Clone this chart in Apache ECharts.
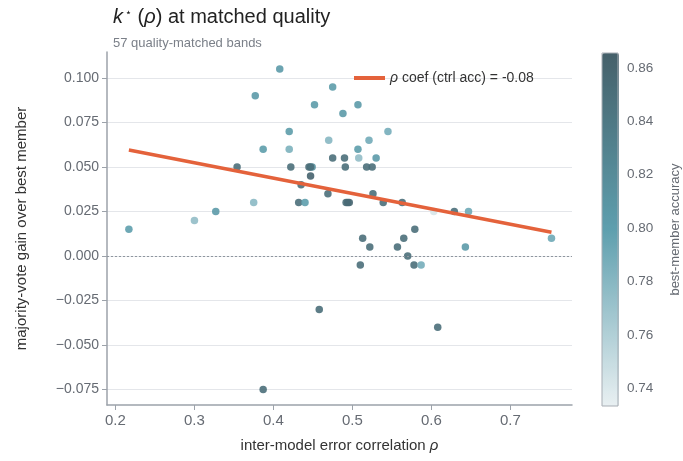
<!DOCTYPE html>
<html>
<head>
<meta charset="utf-8">
<script src="https://cdn.jsdelivr.net/npm/echarts@6/dist/echarts.min.js"></script>
<style>
  html, body { margin: 0; padding: 0; background: #fff; }
  #chart { width: 683px; height: 461px; }
</style>
</head>
<body>
<div id="chart"></div>
<script>
// inter-model error correlation (x), majority-vote gain (y), best-member accuracy (colour)
const rho = [
  0.217, 0.300, 0.327, 0.354, 0.375, 0.377, 0.387, 0.387, 0.408, 0.420,
  0.420, 0.422, 0.432, 0.435, 0.440, 0.445, 0.449, 0.447, 0.452, 0.458,
  0.469, 0.470, 0.475, 0.475, 0.488, 0.490, 0.491, 0.492, 0.496, 0.507,
  0.507, 0.508, 0.510, 0.513, 0.518, 0.521, 0.522, 0.525, 0.526, 0.530,
  0.539, 0.545, 0.557, 0.563, 0.565, 0.570, 0.578, 0.579, 0.587, 0.603,
  0.608, 0.629, 0.643, 0.647, 0.752, 0.494, 0.447
];
const gain = [
  0.015, 0.020, 0.025, 0.050, 0.030, 0.090, 0.060, -0.075, 0.105, 0.070,
  0.060, 0.050, 0.030, 0.040, 0.030, 0.050, 0.050, 0.045, 0.085, -0.030,
  0.035, 0.065, 0.095, 0.055, 0.080, 0.055, 0.050, 0.030, 0.030, 0.085,
  0.060, 0.055, -0.005, 0.010, 0.050, 0.065, 0.005, 0.050, 0.035, 0.055,
  0.030, 0.070, 0.005, 0.030, 0.010, 0.000, -0.005, 0.015, -0.005, 0.025,
  -0.040, 0.025, 0.005, 0.025, 0.010, 0.030, 0.050
];
const acc = [
  0.800, 0.775, 0.805, 0.850, 0.778, 0.805, 0.802, 0.850, 0.805, 0.803,
  0.785, 0.850, 0.850, 0.850, 0.800, 0.852, 0.812, 0.862, 0.803, 0.850,
  0.850, 0.780, 0.803, 0.850, 0.805, 0.850, 0.850, 0.852, 0.860, 0.805,
  0.802, 0.775, 0.850, 0.850, 0.850, 0.790, 0.850, 0.850, 0.850, 0.805,
  0.850, 0.788, 0.850, 0.850, 0.850, 0.850, 0.850, 0.850, 0.788, 0.742,
  0.850, 0.850, 0.805, 0.792, 0.792, 0.855, 0.850
];

// fitted line (rho coefficient, controlling for accuracy)
const fitX = [0.217, 0.752];
const fitY = [0.0595, 0.0133];

const xTicks = [0.2, 0.3, 0.4, 0.5, 0.6, 0.7];
const yTicks = [-0.075, -0.05, -0.025, 0, 0.025, 0.05, 0.075, 0.1];
const cbTicks = [0.74, 0.76, 0.78, 0.80, 0.82, 0.84, 0.86];

const FONT = "Liberation Sans, Arial, sans-serif";
const axisGrey = "#9ca2aa";
const labelGrey = "#666b73";

const chart = echarts.init(document.getElementById("chart"));

const fmtY = v => (v < 0 ? "\u2212" : "") + Math.abs(v).toFixed(3);

const options = {
  animation: false,
  textStyle: { fontFamily: FONT },
  title: {
    left: 108,
    top: 2,
    text: "{i|k}{s|\u22c6} ({i|\u03c1}) at matched quality",
    textStyle: {
      fontFamily: FONT,
      fontSize: 20,
      fontWeight: "normal",
      color: "#222",
      rich: {
        i: { fontFamily: FONT, fontSize: 20, fontStyle: "italic", color: "#222" },
        s: { fontFamily: FONT, fontSize: 11, color: "#222", verticalAlign: "top", padding: [0, 0, 8, 2] }
      }
    },
    subtext: "57 quality-matched bands",
    subtextStyle: { fontFamily: FONT, fontSize: 13, color: "#7b8089" },
    itemGap: 10
  },
  legend: {
    left: 349,
    top: 66,
    itemWidth: 31,
    itemHeight: 4,
    icon: "rect",
    data: [{ name: "fit", itemStyle: { color: "#e4623b" } }],
    formatter: () => "{i|\u03c1} coef (ctrl acc) = -0.08",
    textStyle: {
      fontFamily: FONT,
      fontSize: 14,
      color: "#333",
      rich: { i: { fontFamily: FONT, fontSize: 14, fontStyle: "italic", color: "#333" } }
    }
  },
  grid: [
    { left: 107, top: 52, width: 465, height: 353, show: false },
    { left: 602, top: 53, width: 17, height: 353, show: true, borderColor: "#a7adb4", borderWidth: 1, backgroundColor: "transparent", z: 10 }
  ],
  visualMap: {
    type: "continuous",
    min: 0.7334,
    max: 0.8656,
    dimension: 2,
    seriesIndex: 0,
    left: 602,
    top: 53,
    itemWidth: 17,
    itemHeight: 353,
    padding: 0,
    calculable: false,
    hoverLink: false,
    text: null,
    inRange: { color: ["#e9f0f2", "#5e9fae", "#45606a"] }
  },
  xAxis: [
    {
      type: "value",
      gridIndex: 0,
      min: 0.1893,
      max: 0.778,
      name: "inter-model error correlation {i|\u03c1}",
      nameLocation: "middle",
      nameGap: 33,
      nameTextStyle: {
        fontFamily: FONT, fontSize: 15, color: "#333",
        rich: { i: { fontFamily: FONT, fontSize: 15, fontStyle: "italic", color: "#333" } }
      },
      axisLine: { onZero: false, lineStyle: { color: axisGrey, width: 1.5 } },
      axisTick: { length: 5, customValues: xTicks, lineStyle: { color: axisGrey } },
      axisLabel: { customValues: xTicks, fontSize: 15, color: labelGrey, margin: 8, formatter: v => v.toFixed(1) },
      splitLine: { show: false }
    },
    {
      type: "value",
      gridIndex: 1,
      min: 0,
      max: 1,
      show: false
    }
  ],
  yAxis: [
    {
      type: "value",
      gridIndex: 0,
      min: -0.0837,
      max: 0.1146,
      name: "majority-vote gain over best member",
      nameLocation: "middle",
      nameGap: 78,
      nameTextStyle: { fontFamily: FONT, fontSize: 15, color: "#333" },
      axisLine: { onZero: false, lineStyle: { color: axisGrey, width: 1.5 } },
      axisTick: { length: 5, customValues: yTicks, lineStyle: { color: axisGrey } },
      axisLabel: { customValues: yTicks, fontSize: 14, color: labelGrey, margin: 8, formatter: fmtY },
      splitLine: { show: true, lineStyle: { color: "#e4e6ea", width: 1.2 } }
    },
    {
      type: "value",
      gridIndex: 1,
      position: "right",
      min: 0.7334,
      max: 0.8656,
      name: "best-member accuracy",
      nameLocation: "middle",
      nameRotate: 90,
      nameGap: 51,
      nameTextStyle: { fontFamily: FONT, fontSize: 13, color: "#666b73" },
      axisLine: { show: false },
      axisTick: { show: true, length: 4, customValues: cbTicks, lineStyle: { color: axisGrey } },
      axisLabel: { customValues: cbTicks, fontSize: 13.5, color: labelGrey, margin: 9, formatter: v => v.toFixed(2) },
      splitLine: { show: false }
    }
  ],
  series: [
    {
      name: "bands",
      type: "scatter",
      xAxisIndex: 0,
      yAxisIndex: 0,
      symbolSize: 7.5,
      itemStyle: { opacity: 0.9 },
      data: rho.map((x, i) => [x, gain[i], acc[i]]),
      markLine: {
        silent: true,
        symbol: "none",
        label: { show: false },
        lineStyle: { type: [2, 2], color: "#8f969e", width: 1.2 },
        data: [{ yAxis: 0 }]
      }
    },
    {
      name: "fit",
      type: "line",
      xAxisIndex: 0,
      yAxisIndex: 0,
      showSymbol: false,
      lineStyle: { color: "#e4623b", width: 3.5 },
      itemStyle: { color: "#e4623b" },
      data: fitX.map((x, i) => [x, fitY[i]])
    }
  ]
};

chart.setOption(options);
</script>
</body>
</html>
